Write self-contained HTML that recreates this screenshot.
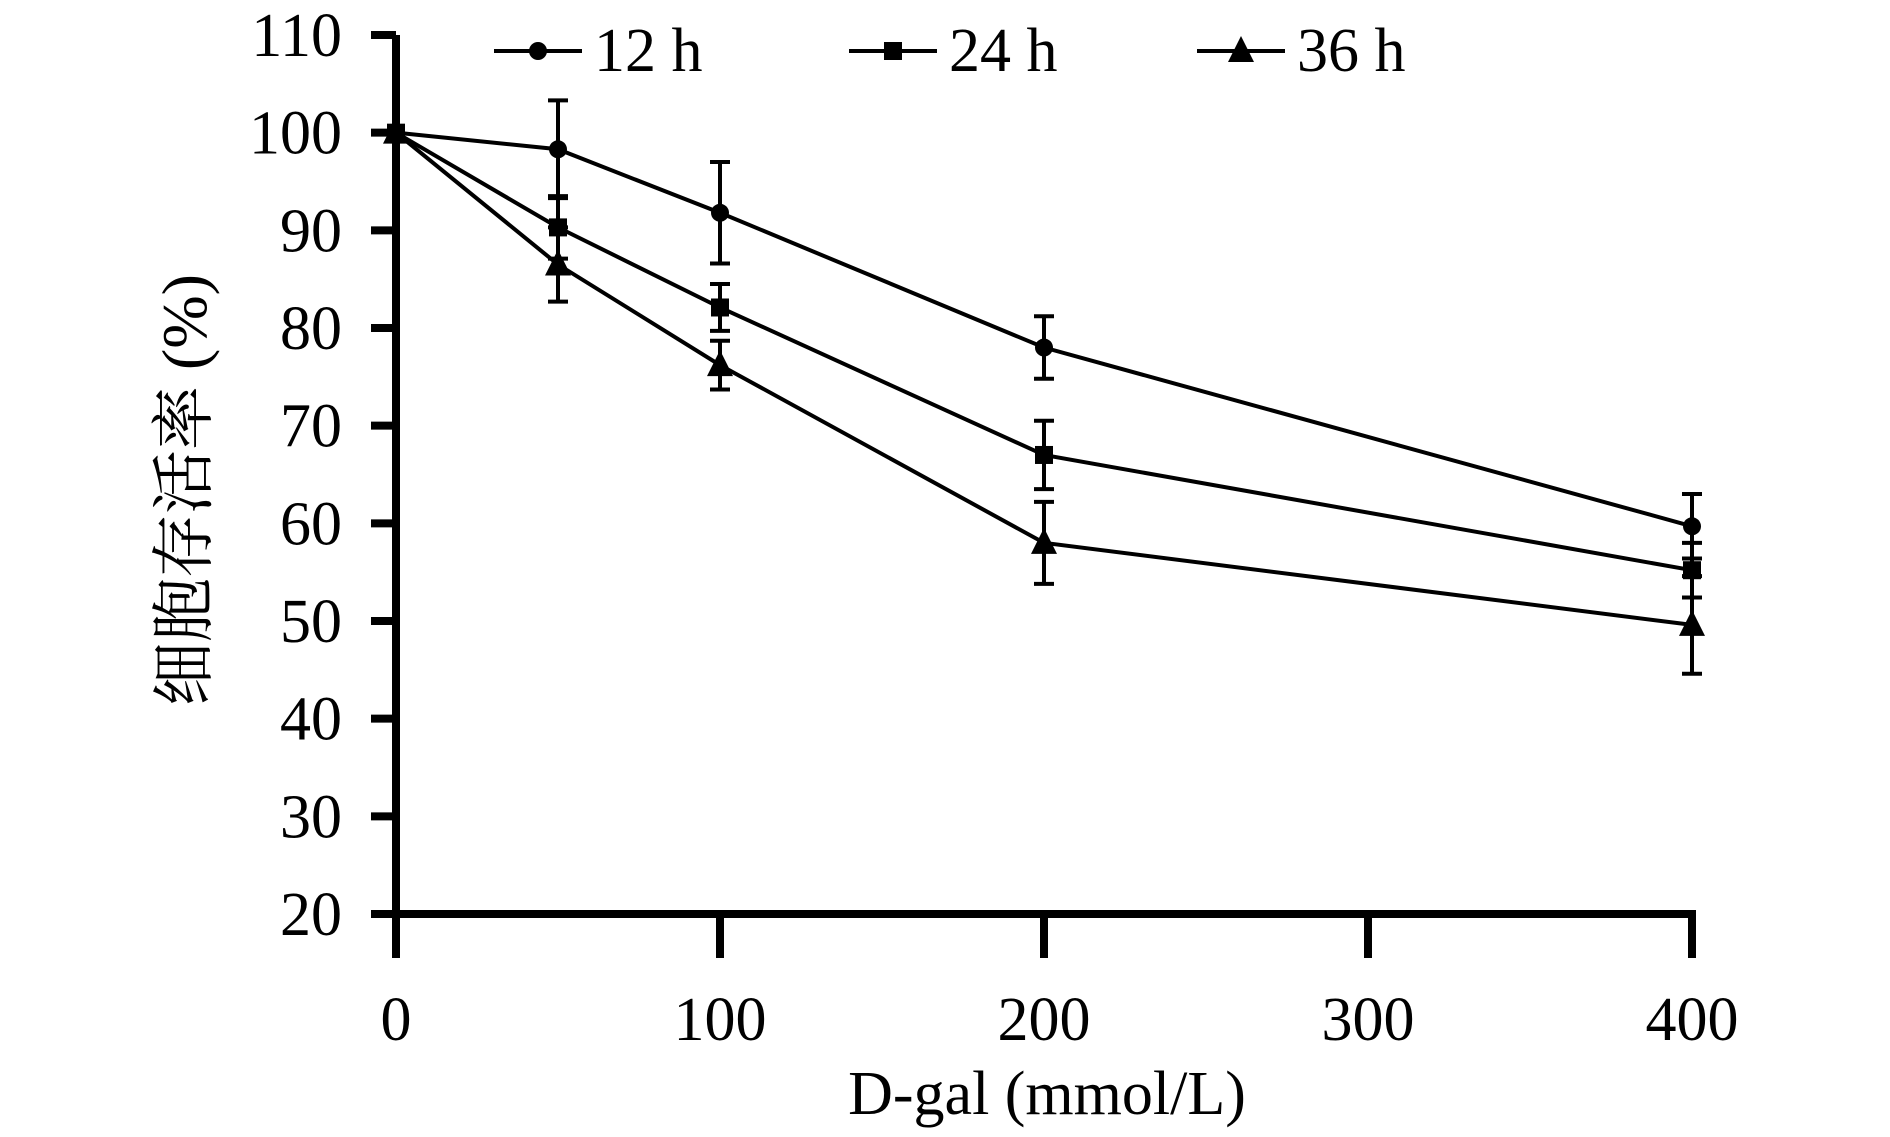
<!DOCTYPE html>
<html><head><meta charset="utf-8"><style>
html,body{margin:0;padding:0;background:#fff;}
svg{display:block;font-family:"Liberation Serif","Noto Serif CJK SC",serif;}
</style></head><body>
<svg id="chart" width="1890" height="1137" viewBox="0 0 1890 1137" xmlns="http://www.w3.org/2000/svg">
<g id="axes"></g>
<g id="series"></g>
<g id="legend"></g>
<text x="1047" y="1114" font-size="62" text-anchor="middle">D-gal (mmol/L)</text>
<text transform="translate(206,490) rotate(-90)" font-size="64" text-anchor="middle">细胞存活率 (%)</text>
</svg>
<script>
const xCats = [0, 50, 100, 200, 400];
const xTicks = [0, 100, 200, 300, 400];
const yTicks = [20, 30, 40, 50, 60, 70, 80, 90, 100, 110];
const seriesNames = ["12 h", "24 h", "36 h"];
const s12 = [100, 98.3, 91.8, 78, 59.7];
const s24 = [100, 90.3, 82.1, 67, 55.2];
const s36 = [100, 86.5, 76.2, 58, 49.6];
const e12 = [0, 5, 5.2, 3.2, 3.3];
const e24 = [0, 3.2, 2.4, 3.5, 2.8];
const e36 = [0, 3.8, 2.5, 4.2, 5];

const NS = "http://www.w3.org/2000/svg";
const X0 = 396, X1 = 1692, Y0 = 914, Y1 = 35;
const xs = v => X0 + (v - 0) / 400 * (X1 - X0);
const ys = v => Y0 - (v - 20) / 90 * (Y0 - Y1);
function mk(tag, attrs, parent) {
  const e = document.createElementNS(NS, tag);
  for (const k in attrs) e.setAttribute(k, attrs[k]);
  parent.appendChild(e);
  return e;
}
const axes = document.getElementById('axes');
let el = mk('line', {x1: X0, y1: Y1, x2: X0, y2: 958, stroke: '#000', 'stroke-width': 8}, axes);


el = mk('line', {x1: 371, y1: Y0, x2: X1 + 4, y2: Y0, stroke: '#000', 'stroke-width': 8}, axes);


yTicks.forEach(t => {
  const y = ys(t);
  const tk = mk('line', {x1: 371, y1: y, x2: X0, y2: y, stroke: '#000', 'stroke-width': 8}, axes);
  
  
  const tx = mk('text', {x: 342, y: y + 21, 'font-size': 62, 'text-anchor': 'end'}, axes);
  tx.textContent = t;
  
  
});
xTicks.forEach(t => {
  const x = xs(t);
  const tk = mk('line', {x1: x, y1: Y0, x2: x, y2: 958, stroke: '#000', 'stroke-width': 8}, axes);
  
  
  const tx = mk('text', {x: x, y: 1040, 'font-size': 62, 'text-anchor': 'middle'}, axes);
  tx.textContent = t;
  
  
});
function marker(kind, x, y, g) {
  let m;
  if (kind === 0) m = mk('circle', {cx: x, cy: y, r: 9, fill: '#000'}, g);
  else if (kind === 1) m = mk('rect', {x: x - 9, y: y - 9, width: 18, height: 18, fill: '#000'}, g);
  else m = mk('polygon', {points: `${x},${y - 15} ${x - 13},${y + 11} ${x + 13},${y + 11}`, fill: '#000'}, g);
  return m;
}
const series = document.getElementById('series');
const allVals = [s12, s24, s36];
const allErr = [e12, e24, e36];
allVals.forEach((vals, si) => {
  const g = mk('g', {}, series);
  
  
  const pts = vals.map((v, i) => xs(xCats[i]) + ',' + ys(v)).join(' ');
  const pl = mk('polyline', {points: pts, fill: 'none', stroke: '#000', 'stroke-width': 4}, g);
  
  
  vals.forEach((v, i) => {
    const e = allErr[si][i];
    const x = xs(xCats[i]);
    if (e > 0) {
      const eb = mk('path', {d: `M${x},${ys(v + e)}V${ys(v - e)}M${x - 10},${ys(v + e)}H${x + 10}M${x - 10},${ys(v - e)}H${x + 10}`, stroke: '#000', 'stroke-width': 4, fill: 'none'}, g);
      
      
    }
    const m = marker(si, x, ys(v), g);
    
    
  });
});
const legend = document.getElementById('legend');
const legX = [494, 849, 1197];
seriesNames.forEach((n, i) => {
  const g = mk('g', {}, legend);
  
  
  mk('line', {x1: legX[i], y1: 51, x2: legX[i] + 88, y2: 51, stroke: '#000', 'stroke-width': 4}, g);
  marker(i, legX[i] + 44, 51, g);
  const t = mk('text', {x: legX[i] + 100, y: 71, 'font-size': 62}, g);
  t.textContent = n;
});
</script>
</body></html>
